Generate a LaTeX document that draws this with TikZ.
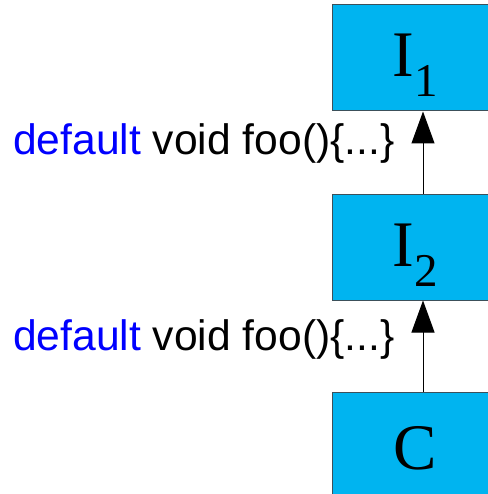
\documentclass[tikz,border=0pt]{standalone}
\usepackage{fontspec}
\setmainfont{Liberation Sans}
\newfontfamily\boxfont{Liberation Serif}
\usetikzlibrary{arrows.meta}
\definecolor{boxfill}{RGB}{0,180,240}
\definecolor{boxline}{RGB}{60,80,90}
\tikzset{
  umlbox/.style={draw=boxline, line width=1pt, fill=boxfill, rectangle, inner sep=0pt, minimum width=165pt, minimum height=106pt},
  boxlabel/.style={inner sep=0pt, anchor=base, font=\boxfont\fontsize{65}{65}\selectfont},
  codeline/.style={inner sep=0pt, anchor=base west, font=\fontsize{42.6}{42.6}\selectfont},
  inherit/.style={draw=black, line width=1pt, -{Triangle[length=32pt, width=23pt]}}
}
\begin{document}
\begin{tikzpicture}[x=1pt, y=-1pt]
\useasboundingbox (0,0) rectangle (487,494);
\node[umlbox] (i1) at (414.5,58) {};
\node[umlbox] (i2) at (414.5,247) {};
\node[umlbox, minimum height=108pt] (c) at (414.5,446) {};
\node[boxlabel] (i1t) at (415,77) {I\raisebox{-20pt}{\fontsize{47}{47}\selectfont 1}};
\node[boxlabel] (i2t) at (415,266) {I\raisebox{-20pt}{\fontsize{47}{47}\selectfont 2}};
\node[boxlabel] (ct) at (415.5,469) {C};
\coordinate (ax) at (423,0);
\draw[inherit] (i2.north -| ax) -- (i1.south -| ax);
\draw[inherit] (c.north -| ax) -- (i2.south -| ax);
\node[codeline] (t1) at (13,155) {\textcolor{blue}{default} void foo()\{...\}};
\node[codeline] (t2) at (13,350) {\textcolor{blue}{default} void foo()\{...\}};
\end{tikzpicture}
\end{document}
